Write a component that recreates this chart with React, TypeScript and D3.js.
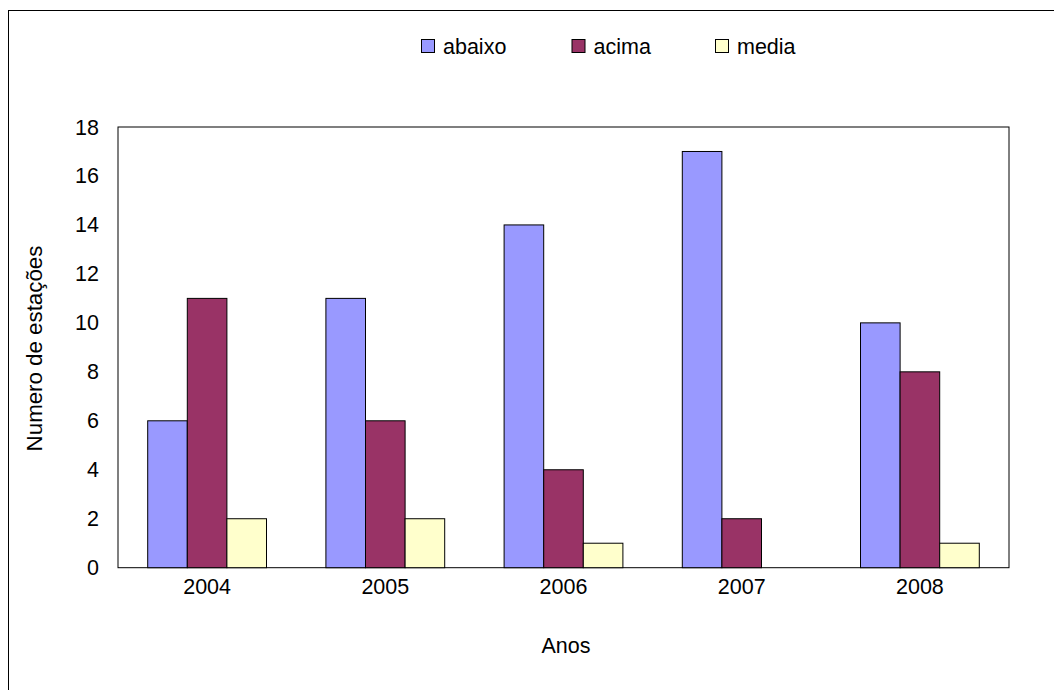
import React from "react";
import * as d3 from "d3";

const years = ["2004", "2005", "2006", "2007", "2008"];
const seriesNames = ["abaixo", "acima", "media"];
const abaixo = [6, 11, 14, 17, 10];
const acima = [11, 6, 4, 2, 8];
const media = [2, 2, 1, 0, 1];
const yTicks = [0, 2, 4, 6, 8, 10, 12, 14, 16, 18];
const colors = ["#9999FF", "#993366", "#FFFFCC"];

export default function App() {
  const W = 1054, H = 690;
  const left = 118, right = 1009, top = 127, bottom = 567.7;
  const font = "'Liberation Sans', Arial, sans-serif";
  const fs = 21.5;
  const groupStep = (right - left) / years.length;
  const barW = groupStep / 4.5;
  const y = d3.scaleLinear().domain([0, 18]).range([bottom, top]);
  const values = [abaixo, acima, media];
  const xc = d3.scalePoint<string>().domain(years).range([left + groupStep / 2, right - groupStep / 2]);

  return (
    <svg width={W} height={H} style={{ position: "absolute", left: 0, top: 0, fontFamily: font }}>
      <rect x={0} y={0} width={W} height={H} fill="#fff" />
      <rect x={8.5} y={10.5} width={1100} height={800} fill="none" stroke="#000" strokeWidth={1} />
      <rect x={left} y={top} width={right - left} height={bottom - top} fill="none" stroke="#000" strokeWidth={1} />
      {years.map((yr, i) =>
        values.map((vals, s) => {
          const cx = xc(yr)!;
          const x0 = cx - 1.5 * barW + s * barW;
          const v = vals[i];
          if (v <= 0) return null;
          return (
            <rect key={yr + s} x={x0} y={y(v)} width={barW} height={y(0) - y(v)} fill={colors[s]} stroke="#000" strokeWidth={1} />
          );
        })
      )}
      {yTicks.map((t) => (
        <text key={t} x={left - 19} y={y(t)} dy="0.35em" textAnchor="end" fontSize={fs} fill="#000">{t}</text>
      ))}
      {years.map((yr) => (
        <text key={yr} x={xc(yr)!} y={bottom + 11} dy="0.71em" textAnchor="middle" fontSize={fs} fill="#000">{yr}</text>
      ))}
      <text x={566} y={652.7} textAnchor="middle" fontSize={fs}>Anos</text>
      <text transform={`translate(42,348.5) rotate(-90)`} textAnchor="middle" fontSize={22.3}>Numero de estações</text>
      {seriesNames.map((n, s) => {
        const lx = [421, 571.5, 715][s];
        return (
          <g key={n}>
            <rect x={lx + 0.5} y={39.5} width={13} height={13} fill={colors[s]} stroke="#000" strokeWidth={1} />
            <text x={lx + 22} y={46} dy="0.35em" fontSize={fs}>{n}</text>
          </g>
        );
      })}
    </svg>
  );
}
